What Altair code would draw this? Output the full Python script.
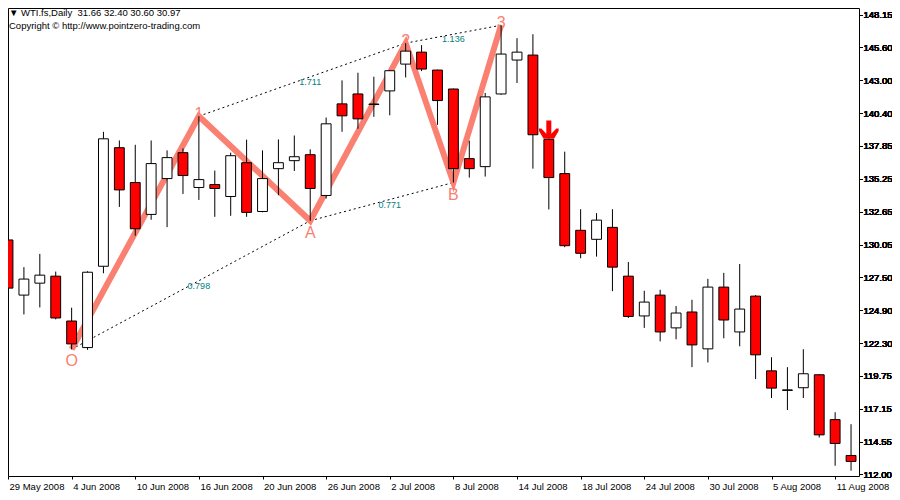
import altair as alt
import pandas as pd

# ---------------- data ----------------
dates = [
    "2008-05-29", "2008-05-30",
    "2008-06-02", "2008-06-03", "2008-06-04", "2008-06-05", "2008-06-06",
    "2008-06-09", "2008-06-10", "2008-06-11", "2008-06-12", "2008-06-13",
    "2008-06-16", "2008-06-17", "2008-06-18", "2008-06-19", "2008-06-20",
    "2008-06-23", "2008-06-24", "2008-06-25", "2008-06-26", "2008-06-27",
    "2008-06-30", "2008-07-01", "2008-07-02", "2008-07-03", "2008-07-04",
    "2008-07-07", "2008-07-08", "2008-07-09", "2008-07-10", "2008-07-11",
    "2008-07-14", "2008-07-15", "2008-07-16", "2008-07-17", "2008-07-18",
    "2008-07-21", "2008-07-22", "2008-07-23", "2008-07-24", "2008-07-25",
    "2008-07-28", "2008-07-29", "2008-07-30", "2008-07-31", "2008-08-01",
    "2008-08-04", "2008-08-05", "2008-08-06", "2008-08-07", "2008-08-08",
    "2008-08-11", "2008-08-12",
]
opens = [130.42, 126.08, 127.02, 127.57, 124.04, 121.95, 128.35, 137.68, 134.94, 132.43,
         135.25, 137.29, 134.55, 134.78, 133.84, 136.50, 132.66, 136.03, 136.66, 137.13,
         133.92, 141.13, 141.91, 141.12, 142.15, 144.26, 145.20, 143.79, 142.30, 136.82,
         136.19, 141.91, 144.58, 144.97, 138.33, 135.64, 131.18, 130.47, 131.41, 127.57,
         124.44, 126.08, 123.50, 124.75, 121.85, 126.71, 123.18, 126.00, 120.12, 118.62,
         118.79, 119.81, 116.28, 113.46]
highs = [133.08, 128.28, 129.32, 127.93, 125.09, 127.96, 138.93, 138.25, 137.91, 138.25,
         137.47, 137.63, 140.16, 135.88, 137.29, 138.31, 137.47, 138.33, 138.64, 137.55,
         140.05, 142.98, 143.58, 143.27, 143.80, 145.91, 145.75, 143.82, 142.33, 138.23,
         141.99, 147.32, 146.30, 146.61, 139.20, 137.37, 132.84, 132.53, 132.84, 128.69,
         126.42, 126.50, 125.22, 125.71, 127.36, 127.83, 128.53, 126.08, 121.19, 120.41,
         121.82, 119.85, 116.86, 115.92]
lows = [126.10, 124.56, 125.11, 124.17, 121.82, 121.77, 127.80, 133.02, 130.75, 132.01,
        131.43, 134.04, 133.57, 132.24, 132.32, 132.24, 132.60, 133.94, 135.85, 131.93,
        133.68, 138.93, 139.17, 140.11, 140.23, 143.21, 143.71, 139.48, 134.94, 135.33,
        135.41, 141.85, 142.77, 136.03, 132.82, 129.85, 128.98, 129.11, 126.39, 124.28,
        123.50, 122.44, 122.60, 120.41, 120.78, 122.68, 122.05, 119.47, 117.98, 117.04,
        117.98, 114.87, 112.65, 112.26]
closes = [126.63, 127.34, 127.65, 124.28, 122.24, 127.88, 138.38, 134.36, 131.30, 136.43,
          136.90, 135.49, 135.17, 134.47, 137.05, 132.59, 135.25, 136.50, 136.97, 134.47,
          139.56, 140.19, 139.95, 141.08, 143.74, 145.28, 143.87, 141.39, 136.03, 136.03,
          141.68, 145.05, 145.20, 138.70, 135.33, 129.97, 129.37, 131.98, 128.28, 124.40,
          125.53, 123.18, 124.67, 122.16, 126.71, 124.12, 124.98, 121.38, 118.76, 118.58,
          119.89, 115.08, 114.40, 112.99]

price_ticks = [148.15, 145.60, 143.00, 140.40, 137.85, 135.25, 132.65, 130.05,
               127.50, 124.90, 122.30, 119.75, 117.15, 114.55, 112.00]

# zigzag pivots
pivot_names = ["O", "1", "A", "2", "B", "3"]
pivot_bars = [4, 12, 19, 25, 28, 31]
pivot_prices = [121.82, 140.16, 131.93, 145.91, 134.94, 147.32]
pivot_sides = ["low", "high", "low", "high", "low", "high"]

# retracement / projection ratios between pivots
ratio_from = ["O", "1", "A", "2"]
ratio_to = ["A", "2", "B", "3"]
ratio_text = ["0.798", "1.711", "0.771", "1.136"]

# sell signal arrow
signal_bar = [34]
signal_price = [139.07]

header_lines = ["\u25bc WTI.fs,Daily\u00a0\u00a031.66 32.40 30.60 30.97",
                "Copyright \u00a9 http://www.pointzero-trading.com"]

# ---------------- frames ----------------
FONT = "Liberation Sans"
SALMON = "#FA8072"
n = len(dates)
df = pd.DataFrame({"i": list(range(n)), "date": dates, "open": opens,
                   "high": highs, "low": lows, "close": closes})
df["fill"] = ["#FFFFFF" if c > o else "#FF0000" for o, c in zip(opens, closes)]
df["x1"] = df["i"] - 0.31
df["x2"] = df["i"] + 0.31

tick_idx = list(range(0, n, 4))
tick_labels = []
for k in tick_idx:
    d = pd.Timestamp(dates[k])
    tick_labels.append(f"{d.day} {d.strftime('%b %Y')}")
label_expr = "[" + ",".join("'" + t + "'" for t in tick_labels) + "][round(datum.value/4)]"

piv = pd.DataFrame({"name": pivot_names, "i": pivot_bars, "price": pivot_prices,
                    "side": pivot_sides})
pmap = {nm: (b, p) for nm, b, p in zip(pivot_names, pivot_bars, pivot_prices)}
seg_rows = []
for a, b, t in zip(ratio_from, ratio_to, ratio_text):
    (i1, p1), (i2, p2) = pmap[a], pmap[b]
    xm = -(-(i1 + i2) // 2)
    pm = p1 + (p2 - p1) * (xm - i1) / (i2 - i1)
    seg_rows.append({"i1": i1, "p1": p1, "i2": i2, "p2": p2, "xm": xm, "pm": pm, "t": t})
seg = pd.DataFrame(seg_rows)
sig = pd.DataFrame({"i": signal_bar, "price": signal_price})
hdr = pd.DataFrame({"t": header_lines, "row": [0, 1]})

# ---------------- scales / axes ----------------
xscale = alt.Scale(domain=[0, 53.5], nice=False, zero=False)
yscale = alt.Scale(domain=[111.843, 148.675], nice=False, zero=False)
xaxis = alt.Axis(values=tick_idx, labelExpr=label_expr, title=None, domain=False, grid=False,
                 tickSize=3, tickColor="black", labelAlign="left", labelBaseline="top",
                 labelPadding=2, labelOffset=1, labelFont=FONT, labelFontSize=9.5,
                 labelColor="black", labelOverlap=False, labelFlush=False, labelBound=False)
yaxis = alt.Axis(orient="right", values=price_ticks, format=".2f", title=None, domain=False,
                 grid=False, tickSize=3, tickColor="black", labelPadding=1, labelFont=FONT,
                 labelFontSize=9.5, labelColor="black", labelOverlap=False, labelFlush=False,
                 labelBound=False)


def X(f):
    return alt.X(f, type="quantitative", scale=xscale, axis=xaxis)


def Y(f):
    return alt.Y(f, type="quantitative", scale=yscale, axis=yaxis)


dotted = alt.Chart(seg).mark_rule(color="black", strokeWidth=1, strokeDash=[2, 3], clip=True).encode(
    x=X("i1"), x2="i2", y=Y("p1"), y2="p2")

zigzag = alt.Chart(piv).mark_line(color=SALMON, strokeWidth=6, clip=True).encode(
    x=X("i"), y=Y("price"), order="i:Q")

high_lbl = alt.Chart(piv).transform_filter("datum.side == 'high'").mark_text(
    font=FONT, fontSize=16, color=SALMON, baseline="middle", align="center", dy=-2).encode(
    x=X("i"), y=Y("price"), text="name:N")

wicks = alt.Chart(df).mark_rule(color="black", strokeWidth=1, clip=True).encode(
    x=X("i"), y=Y("low"), y2="high")

bodies = alt.Chart(df).mark_rect(stroke="black", strokeWidth=1, clip=True).encode(
    x=X("x1"), x2="x2", y=Y("open"), y2="close", fill=alt.Fill("fill:N", scale=None))

low_lbl = alt.Chart(piv).transform_filter("datum.side == 'low'").mark_text(
    font=FONT, fontSize=16, color=SALMON, baseline="middle", align="center", dy=12).encode(
    x=X("i"), y=Y("price"), text="name:N")

ratio_lbl = alt.Chart(seg).mark_text(font=FONT, fontSize=9, color="#008080",
                                     baseline="top", align="center", dy=1).encode(
    x=X("xm"), y=Y("pm"), text="t:N")

arrow_path = ("M-0.25,-0.95L0.25,-0.95L0.25,0.38L0.75,-0.15L0.98,-0.15L0.98,0.1"
              "L0.52,0.88L-0.52,0.88L-0.98,0.1L-0.98,-0.15L-0.75,-0.15L-0.25,0.38Z")
arrow = alt.Chart(sig).mark_point(shape=arrow_path, filled=True, fill="#FF0000",
                                  strokeWidth=0, size=400, opacity=1).encode(
    x=X("i"), y=Y("price"))

header = alt.Chart(hdr).mark_text(font=FONT, fontSize=9.5, color="black", align="left",
                                  baseline="middle").encode(
    x=alt.value(1), y=alt.Y("row:Q", scale=alt.Scale(domain=[0, 1], range=[5, 18]), axis=None),
    text="t:N")

chart = alt.layer(dotted, zigzag, high_lbl, wicks, bodies, low_lbl, ratio_lbl, arrow, header).resolve_scale(
    y="independent").properties(
    width=851, height=468,
    padding={"left": 0, "top": 0, "right": 33, "bottom": 16},
    autosize=alt.AutoSizeParams(type="none"),
).configure(background="white").configure_view(stroke="black", strokeWidth=1)

chart.save("out.html", embed_options={"renderer": "svg", "actions": False})
